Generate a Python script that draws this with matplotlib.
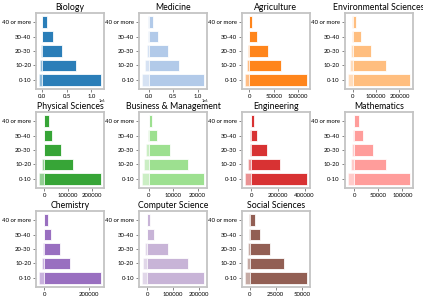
import numpy as np
import matplotlib.pyplot as plt

plt.rcParams['font.family'] = ['Lato', 'DejaVu Sans']

ages = ["0-10", "10-20", "20-30", "30-40", "40 or more"]

subjects = ["Biology", "Medicine", "Agriculture", "Environmental Sciences",
            "Physical Sciences", "Business & Management", "Engineering", "Mathematics",
            "Chemistry", "Computer Science", "Social Sciences"]

# positive part of each bar, by age band
pos = {
    "Biology": [1200000, 680000, 410000, 210000, 95000],
    "Medicine": [1130000, 610000, 380000, 175000, 70000],
    "Agriculture": [118000, 66000, 39000, 15000, 6000],
    "Environmental Sciences": [244000, 144000, 80000, 34000, 14000],
    "Physical Sciences": [240000, 121000, 70000, 31000, 18000],
    "Business & Management": [22600, 16000, 8600, 3200, 1400],
    "Engineering": [417000, 217000, 117000, 42000, 20000],
    "Mathematics": [115000, 66000, 38500, 18000, 11000],
    "Chemistry": [252000, 114000, 70000, 30000, 15000],
    "Computer Science": [219000, 158000, 79000, 27000, 10000],
    "Social Sciences": [54800, 32500, 19100, 9600, 5100],
}

# small negative part drawn lighter
neg = {
    "Biology": [-65000, -40000, -18000, -5000, -2000],
    "Medicine": [-150000, -85000, -55000, -35000, -18000],
    "Agriculture": [-9000, -5000, -2000, -700, -300],
    "Environmental Sciences": [-21000, -11000, -6000, -2000, -1000],
    "Physical Sciences": [-23000, -11000, -4000, -2000, -1000],
    "Business & Management": [-2900, -2200, -1100, -400, -200],
    "Engineering": [-47000, -22000, -12000, -5000, -2000],
    "Mathematics": [-13000, -7000, -3500, -1500, -800],
    "Chemistry": [-24000, -13000, -6000, -2000, -1000],
    "Computer Science": [-21000, -16000, -9000, -3000, -1000],
    "Social Sciences": [-4500, -2200, -1300, -500, -200],
}

colors = plt.cm.tab20.colors

fig, axes = plt.subplots(3, 4, figsize=(4.23, 2.99), dpi=100)
fig.subplots_adjust(left=0.085, right=0.976, top=0.957, bottom=0.04,
                    wspace=0.51, hspace=0.30)

y = np.arange(len(ages))
for i, ax in enumerate(axes.flat):
    if i >= len(subjects):
        ax.axis("off")
        continue
    s = subjects[i]
    c = colors[i]
    ax.barh(y, pos[s], height=0.8, color=c, alpha=0.95, edgecolor="white", linewidth=0.6)
    ax.barh(y, neg[s], height=0.8, color=c, alpha=0.5, edgecolor="white", linewidth=0.6)
    ax.set_yticks(y)
    ax.set_yticklabels(ages)
    ax.set_title(s, fontsize=6.3, pad=2)
    ax.tick_params(labelsize=4.3, length=2, width=0.5, pad=1.5, color="#555555")
    for sp in ax.spines.values():
        sp.set_color("#c4c4c4")
        sp.set_linewidth(1.3)

# offset text drawn by hand so it sits tight under the axis
for ax in axes.flat[:2]:
    fig.canvas.draw()
    off = ax.xaxis.get_offset_text().get_text()
    ax.xaxis.get_offset_text().set_visible(False)
    ax.text(1.02, -0.13, off, transform=ax.transAxes, fontsize=2.8,
            ha="right", va="top")

fig.savefig("out.png", dpi=100)
